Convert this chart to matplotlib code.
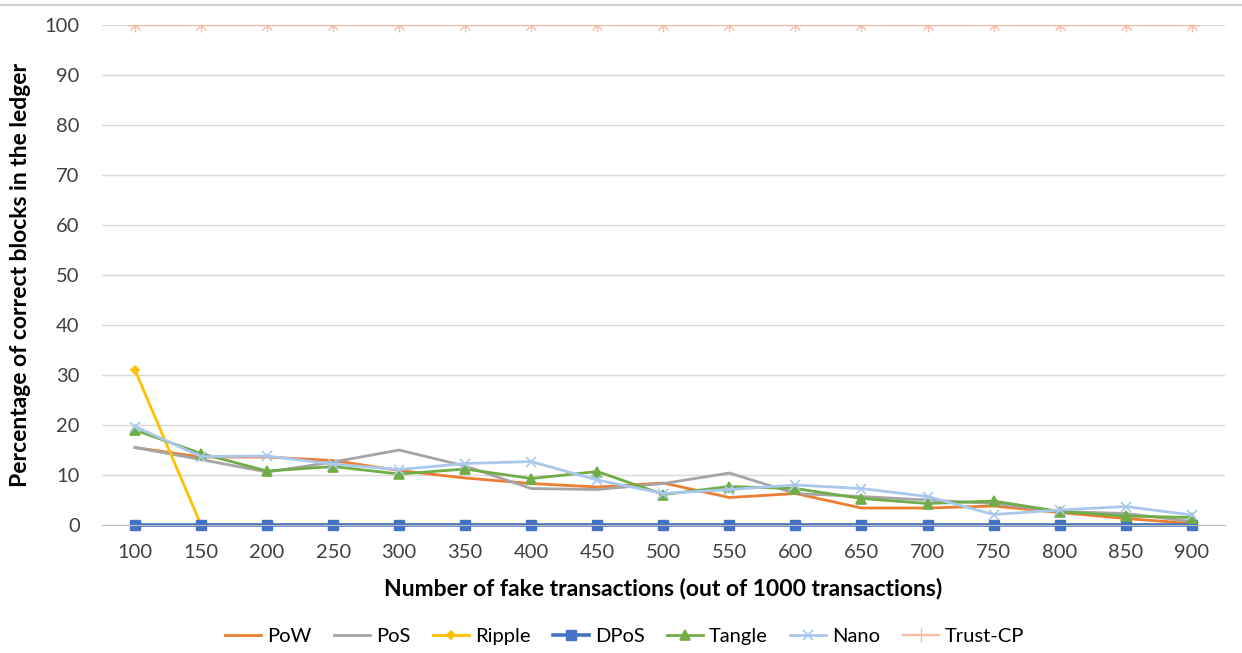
import matplotlib.pyplot as plt
from matplotlib.lines import Line2D

OUTPUT_FIG = "out.png"

fake_tx = [100, 150, 200, 250, 300, 350, 400, 450, 500, 550, 600, 650, 700, 750, 800, 850, 900]

pow_vals = [15.5, 13.6, 13.6, 12.9, 10.9, 9.4, 8.3, 7.6, 8.4, 5.5, 6.3, 3.4, 3.4, 3.8, 2.5, 1.3, 0.3]
pos_vals = [15.5, 13.1, 10.6, 12.6, 15.0, 11.8, 7.3, 7.1, 8.3, 10.4, 6.3, 5.7, 5.0, 4.3, 2.7, 2.3, 0.7]
ripple_vals = [31, 0, 0, 0, 0, 0, 0, 0, 0, 0, 0, 0, 0, 0, 0, 0, 0]
dpos_vals = [0] * 17
tangle_vals = [19.0, 14.3, 10.8, 11.7, 10.2, 11.2, 9.3, 10.7, 6.1, 7.7, 7.3, 5.3, 4.3, 4.8, 2.7, 1.8, 1.5]
nano_vals = [19.7, 13.7, 13.8, 12.2, 11.1, 12.3, 12.7, 9.0, 6.3, 7.1, 8.0, 7.3, 5.7, 2.1, 3.0, 3.7, 2.0]
trust_vals = [100] * 17

series = [
    ("PoW", pow_vals, "#ED7D31", None, 0),
    ("PoS", pos_vals, "#A5A5A5", None, 0),
    ("Ripple", ripple_vals, "#FFC000", "D", 4.5),
    ("DPoS", dpos_vals, "#4472C4", "s", 7),
    ("Tangle", tangle_vals, "#70AD47", "^", 7),
    ("Nano", nano_vals, "#A9C8EC", "x", 7),
    ("Trust-CP", trust_vals, "#F7B9A3", "*", 0),
]

plt.rcParams["font.family"] = ["Lato", "DejaVu Sans"]

fig = plt.figure(figsize=(12.42, 6.53), dpi=100)
ax = fig.add_axes([0.0821, 0.196, 0.904, 0.7655])

for name, vals, color, marker, ms in series:
    if name == "Trust-CP":
        ax.plot(fake_tx, vals, color=color, linewidth=1.6, marker="+", markersize=10,
                markeredgewidth=1.0, label=name)
        ax.plot(fake_tx, vals, color=color, linewidth=0, marker="x", markersize=7,
                markeredgewidth=1.0)
    elif marker is None:
        ax.plot(fake_tx, vals, color=color, linewidth=2.0, label=name)
    elif name == "DPoS":
        ax.plot(fake_tx, vals, color=color, linewidth=2.6, marker=marker,
                markersize=ms, label=name, clip_on=False)
    else:
        ax.plot(fake_tx, vals, color=color, linewidth=2.0, marker=marker,
                markersize=ms, markeredgewidth=1.2, label=name)

ax.set_xlim(75, 925)
ax.set_ylim(0, 100)
ax.set_xticks(fake_tx)
ax.set_yticks(range(0, 101, 10))
ax.tick_params(axis="both", length=0, labelsize=14.5, colors="#404040")
ax.tick_params(axis="x", pad=14)
ax.tick_params(axis="y", pad=16)
ax.grid(axis="y", color="#D9D9D9", linewidth=1.0)
ax.set_axisbelow(True)
for side in ["top", "right", "left"]:
    ax.spines[side].set_visible(False)
ax.spines["bottom"].set_color("#BFBFBF")

ax.set_xlabel("Number of fake transactions (out of 1000 transactions)", fontsize=16.5,
              fontweight="bold", color="#000000", labelpad=12)
ax.set_ylabel("Percentage of correct blocks in the ledger", fontsize=16.5,
              fontweight="bold", color="#000000", labelpad=10)

fig.legend(loc="center", bbox_to_anchor=(0.503, 0.026), ncol=7, frameon=False,
           fontsize=14.5, handlelength=1.8, columnspacing=1.1, handletextpad=0.3)

fig.add_artist(Line2D([0, 1], [0.992, 0.992], color="#D0D0D0", linewidth=1.5))

fig.savefig(OUTPUT_FIG)
